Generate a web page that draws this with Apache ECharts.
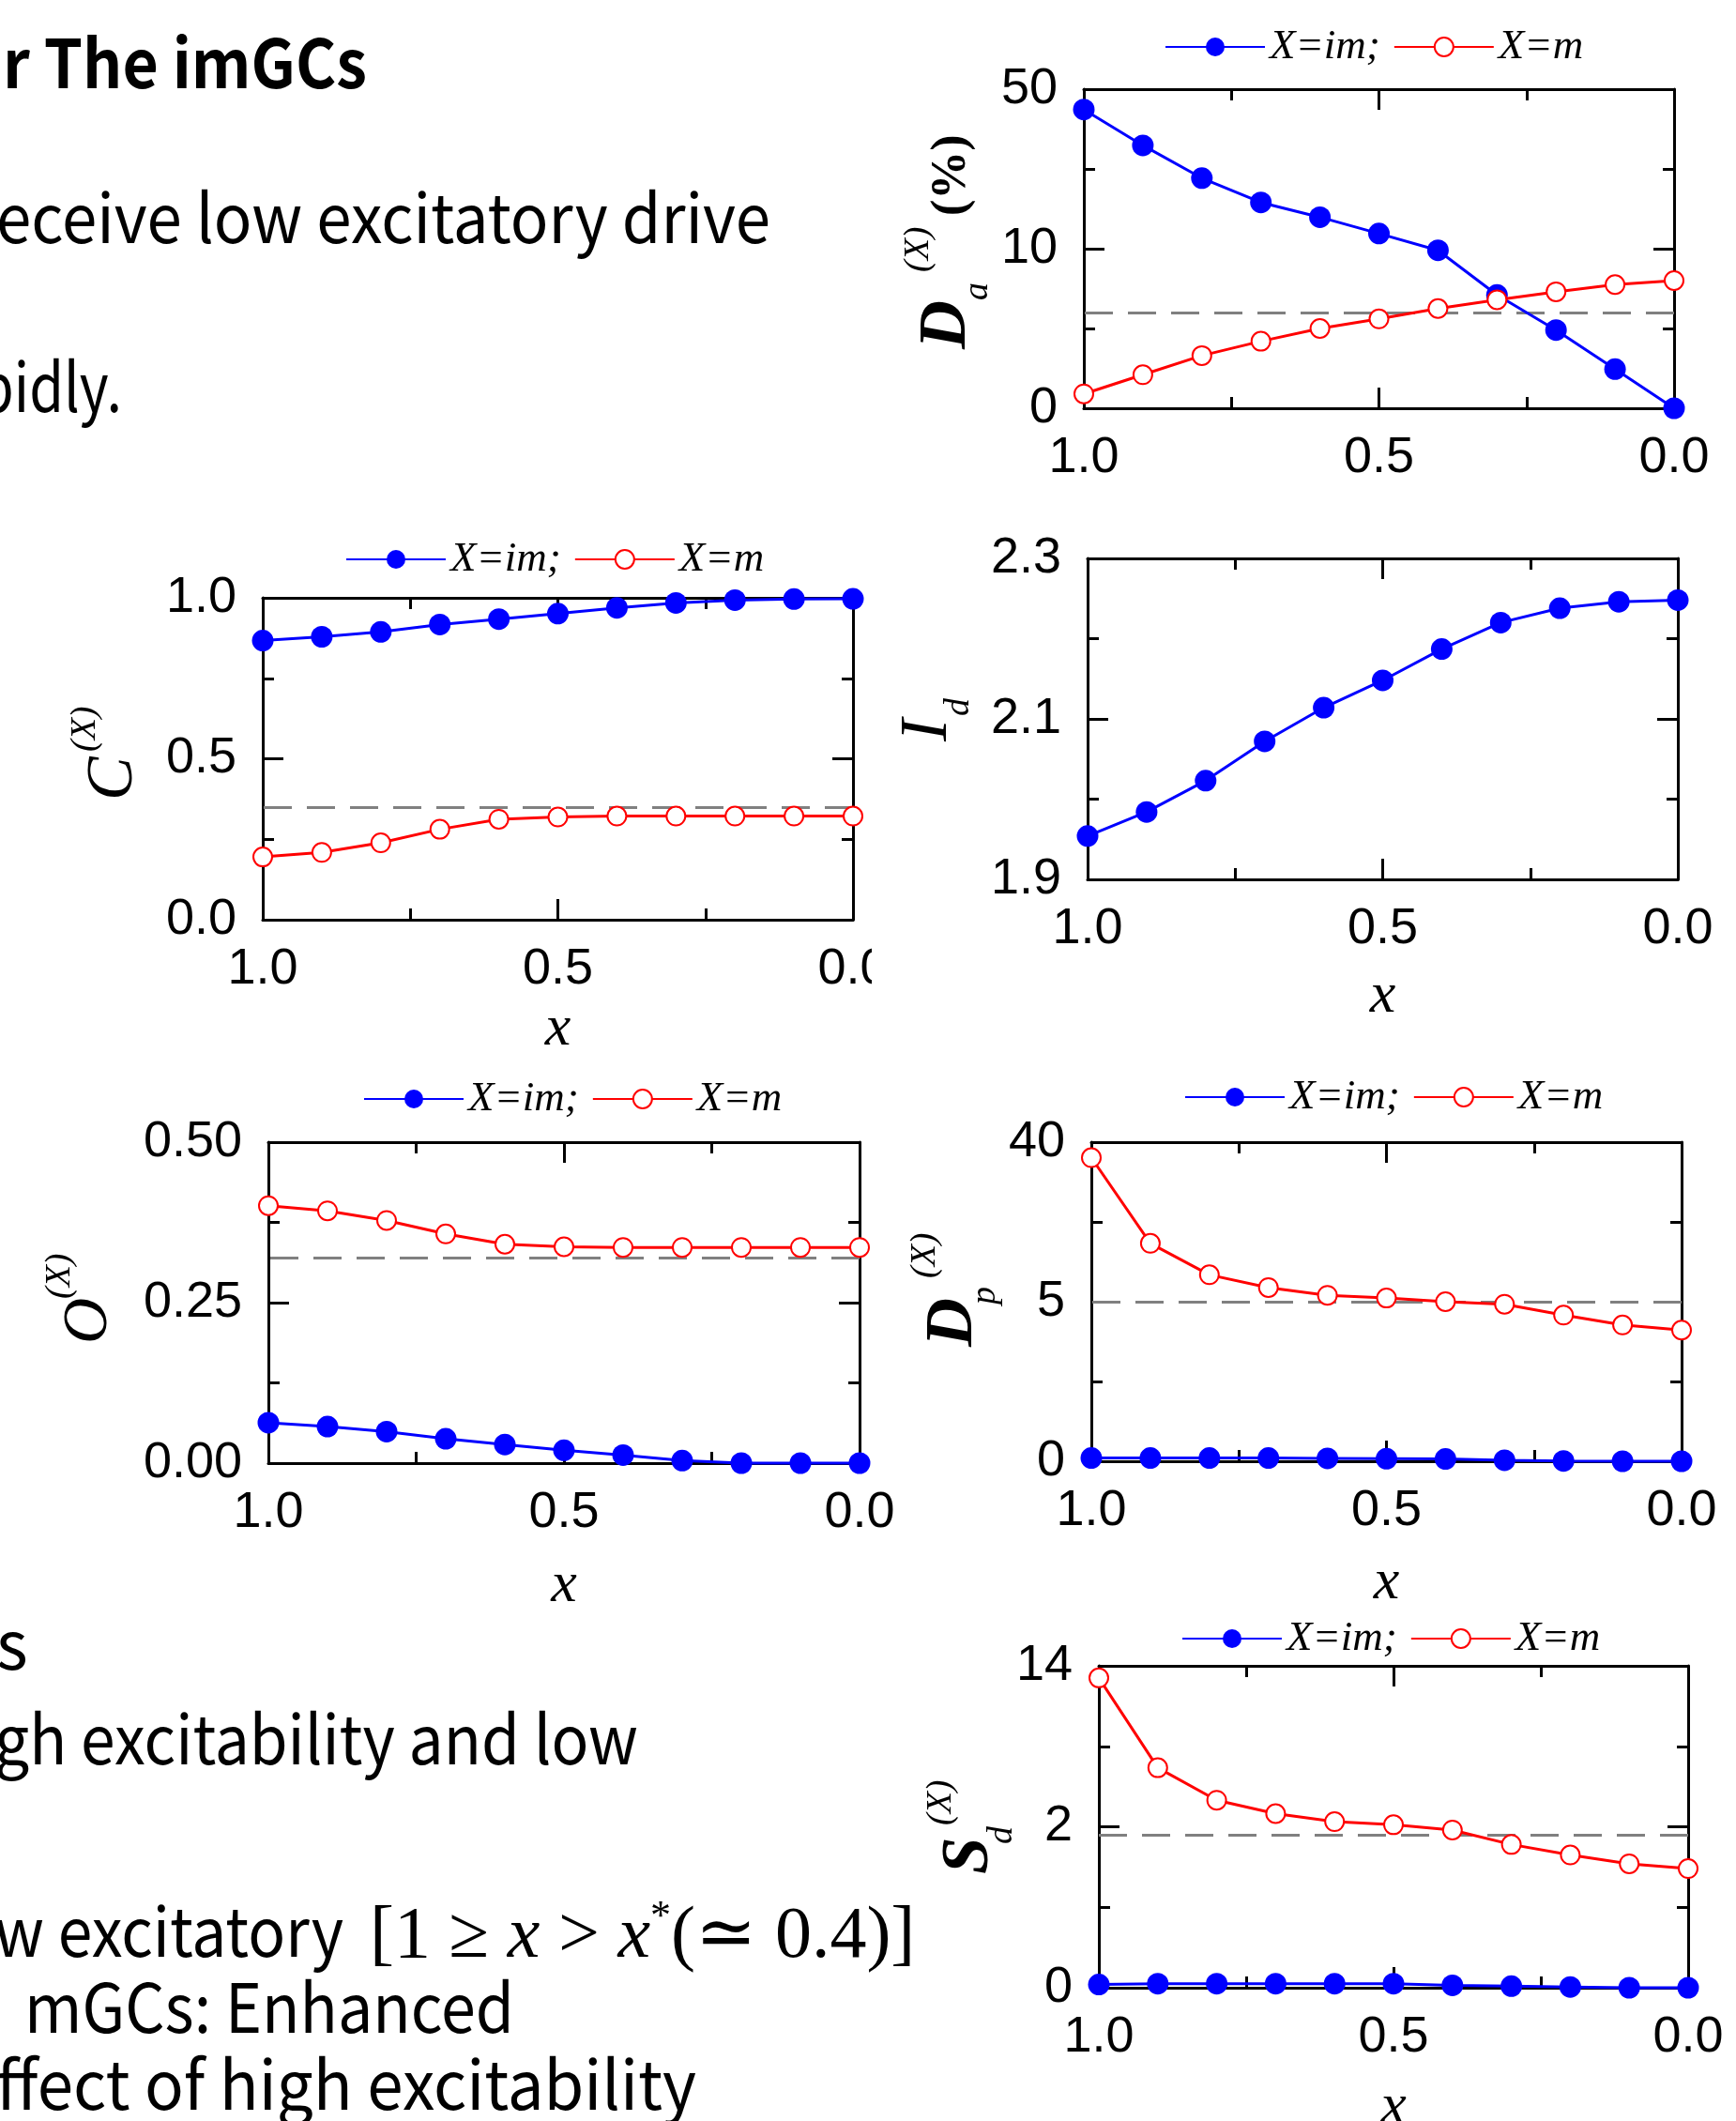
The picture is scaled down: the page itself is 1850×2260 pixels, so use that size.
<!DOCTYPE html>
<html><head><meta charset="utf-8">
<script src="https://cdn.jsdelivr.net/npm/echarts@6/dist/echarts.min.js"></script>
<style>
html,body{margin:0;padding:0;background:#fff;}
#wrap{position:relative;width:1850px;height:2260px;overflow:hidden;background:#fff;}
#chart{position:absolute;left:0;top:0;width:1850px;height:2260px;}
#ov{position:absolute;left:0;top:0;width:1850px;height:2260px;pointer-events:none;}
</style></head><body>
<div id="wrap"><div id="chart"></div>
<svg id="ov" width="1850" height="2260" xmlns="http://www.w3.org/2000/svg">
  <!-- mask that crops the right-most tick label of the C panel, as in the slide -->
  <rect x="929" y="1000" width="70" height="70" fill="#fff"/>
  <g font-family="'Noto Sans CJK KR','Noto Sans',sans-serif" fill="#000">
    <text x="3" y="94" font-size="72" font-weight="bold" textLength="388" lengthAdjust="spacingAndGlyphs">r The imGCs</text>
    <text x="-4" y="259" font-size="72" textLength="825" lengthAdjust="spacingAndGlyphs">eceive low excitatory drive</text>
    <text x="-22" y="439" font-size="72" textLength="152" lengthAdjust="spacingAndGlyphs">pidly.</text>
    <text x="-4" y="1779" font-size="72">s</text>
    <text x="-6" y="1880" font-size="72" textLength="686" lengthAdjust="spacingAndGlyphs">gh excitability and low</text>
    <text x="-6" y="2085" font-size="72" textLength="372" lengthAdjust="spacingAndGlyphs">w excitatory</text>
    <text x="394" y="2085" font-size="78" font-family="'Liberation Serif','DejaVu Serif',serif">[1 ≥ <tspan font-style="italic">x</tspan> &gt; <tspan font-style="italic">x</tspan><tspan font-size="44" dy="-30">*</tspan><tspan dy="30">(≃ 0.4)]</tspan></text>
    <text x="26" y="2166" font-size="72" textLength="522" lengthAdjust="spacingAndGlyphs">mGCs: Enhanced</text>
    <text x="-4" y="2248" font-size="72" textLength="746" lengthAdjust="spacingAndGlyphs">ffect of high excitability</text>
  </g>
  <g font-family="'Liberation Serif','Times New Roman',serif" fill="#000">
    <g transform="translate(1028,372) rotate(-90)">
      <text x="0" y="0" font-size="72" font-weight="bold" font-style="italic">D</text>
      <text x="52" y="24" font-size="38" font-style="italic">a</text>
      <text x="82" y="-39" font-size="38" font-style="italic">(X)</text>
      <text x="142" y="0" font-size="52" font-weight="bold">(%)</text>
    </g>
    <g transform="translate(140,853) rotate(-90)">
      <text x="0" y="0" font-size="70" font-style="italic">C</text>
      <text x="52" y="-39" font-size="38" font-style="italic">(X)</text>
    </g>
    <g transform="translate(1008,790) rotate(-90)">
      <text x="0" y="0" font-size="72" font-style="italic">I</text>
      <text x="27" y="24" font-size="38" font-style="italic">d</text>
    </g>
    <g transform="translate(113,1432) rotate(-90)">
      <text x="0" y="0" font-size="68" font-style="italic">O</text>
      <text x="48" y="-39" font-size="38" font-style="italic">(X)</text>
    </g>
    <g transform="translate(1035,1435) rotate(-90)">
      <text x="0" y="0" font-size="72" font-weight="bold" font-style="italic">D</text>
      <text x="45" y="25" font-size="38" font-style="italic">p</text>
      <text x="73" y="-39" font-size="38" font-style="italic">(X)</text>
    </g>
    <g transform="translate(1052,1997) rotate(-90)">
      <text x="0" y="0" font-size="71" font-weight="bold" font-style="italic">S</text>
      <text x="32" y="26" font-size="38" font-style="italic">d</text>
      <text x="52" y="-39" font-size="38" font-style="italic">(X)</text>
    </g>
  </g>
</svg></div>
<script>
// ---- data ----
const xs = [1.0, 0.9, 0.8, 0.7, 0.6, 0.5, 0.4, 0.3, 0.2, 0.1, 0.0];
const xTicks = [0, 0.5, 1.0];
const legendNames = ['X=im;', 'X=m'];

const Da_im = [44.9, 35.9, 27.7, 21.6, 17.9, 13.8, 9.9, 7.1, 4.9, 2.45, 0.0];
const Da_m  = [0.9, 2.1, 3.3, 4.2, 5.0, 5.6, 6.25, 6.8, 7.3, 7.75, 8.0];
const Da_ref = 6.0;
const Da_ticks = [0, 10, 50];

const C_im = [0.867, 0.879, 0.894, 0.917, 0.934, 0.951, 0.969, 0.984, 0.993, 0.996, 0.997];
const C_m  = [0.195, 0.209, 0.239, 0.281, 0.312, 0.319, 0.322, 0.322, 0.322, 0.322, 0.322];
const C_ref = 0.353;
const C_ticks = [0.0, 0.5, 1.0];

const Id_im = [1.954, 1.984, 2.023, 2.072, 2.114, 2.148, 2.187, 2.220, 2.238, 2.246, 2.248];
const Id_ticks = [1.9, 2.1, 2.3];

const O_im = [0.063, 0.057, 0.049, 0.038, 0.029, 0.020, 0.0125, 0.004, 0.0, 0.0, 0.0];
const O_m  = [0.401, 0.393, 0.378, 0.357, 0.341, 0.337, 0.336, 0.336, 0.336, 0.336, 0.336];
const O_ref = 0.321;
const O_ticks = [0.00, 0.25, 0.50];

const Dp_im = [0.1, 0.1, 0.1, 0.1, 0.09, 0.08, 0.07, 0.03, 0.01, 0.0, 0.0];
const Dp_m  = [36.6, 17.8, 10.9, 8.1, 6.4, 5.8, 5.0, 4.92, 4.58, 4.27, 4.11];
const Dp_ref = 5.0;
const Dp_ticks = [0, 5, 40];

const Sd_im = [0.04, 0.05, 0.05, 0.05, 0.05, 0.05, 0.03, 0.02, 0.01, 0.0, 0.0];
const Sd_m  = [13.1, 6.4, 3.98, 2.98, 2.38, 2.15, 1.96, 1.78, 1.65, 1.54, 1.48];
const Sd_ref = 1.907;
const Sd_ticks = [0, 2, 14];

// ---- layout ----
const panels = [
  {grid:{left:1155, top:95,   width:629, height:340}, ticks:Da_ticks, broken:true,  im:Da_im, m:Da_m, ref:Da_ref, legend:{left:1241, yc:50},   xName:null},
  {grid:{left:280,  top:637,  width:629, height:343}, ticks:C_ticks,  broken:false, dec:1, im:C_im, m:C_m, ref:C_ref, legend:{left:368, yc:596}, xName:117},
  {grid:{left:1159, top:595,  width:629, height:342}, ticks:Id_ticks, broken:false, dec:1, im:Id_im, m:null, ref:null, legend:null, xName:125},
  {grid:{left:286,  top:1217, width:630, height:342}, ticks:O_ticks,  broken:false, dec:2, im:O_im, m:O_m, ref:O_ref, legend:{left:387, yc:1171}, xName:131},
  {grid:{left:1163, top:1217, width:629, height:340}, ticks:Dp_ticks, broken:true,  im:Dp_im, m:Dp_m, ref:Dp_ref, legend:{left:1262, yc:1169}, xName:130},
  {grid:{left:1171, top:1775, width:628, height:343}, ticks:Sd_ticks, broken:true,  im:Sd_im, m:Sd_m, ref:Sd_ref, legend:{left:1259, yc:1746}, xName:128}
];

// a two-segment (broken) scale: [t0,t1] fills the lower half, [t1,t2] the upper half
function mapper(p){
  if(!p.broken) return v => v;
  const t = p.ticks;
  return v => v <= t[1] ? (v - t[0]) / (t[1] - t[0]) : 1 + (v - t[1]) / (t[2] - t[1]);
}

const BLACK = '#000';
const lineAx = {show:true, onZero:false, lineStyle:{color:BLACK, width:3}};
const tickAx = {show:true, inside:true, length:22, lineStyle:{color:BLACK, width:3}};
const minorAx = {show:true, splitNumber:2, length:12, lineStyle:{color:BLACK, width:3}};
const labelFont = {color:BLACK, fontSize:54, fontFamily:"'Liberation Sans', Arial, sans-serif"};

const grid = [], xAxis = [], yAxis = [], series = [], legend = [];
panels.forEach((p, gi) => {
  grid.push(Object.assign({containLabel:false, outerBoundsMode:'none'}, p.grid));
  ['bottom','top'].forEach((pos, k) => {
    const ax = {type:'value', gridIndex:gi, position:pos, inverse:true,
      min:xTicks[0], max:xTicks[2], interval:xTicks[1]-xTicks[0],
      axisLine:lineAx, axisTick:tickAx, minorTick:minorAx,
      splitLine:{show:false}, minorSplitLine:{show:false},
      axisLabel:Object.assign({show:k===0, margin:26, formatter:v=>v.toFixed(1)}, labelFont)};
    if(k===0 && p.xName){
      ax.name = 'x'; ax.nameLocation = 'middle'; ax.nameGap = p.xName;
      ax.nameTextStyle = {color:BLACK, fontSize:62, fontStyle:'italic', fontFamily:"'Liberation Serif', serif", verticalAlign:'middle'};
    }
    xAxis.push(ax);
  });
  const f = mapper(p);
  const ymin = p.broken ? 0 : p.ticks[0];
  const ymax = p.broken ? 2 : p.ticks[2];
  const yint = p.broken ? 1 : (p.ticks[1] - p.ticks[0]);
  const fmt = p.broken ? (v => String(p.ticks[Math.round(v)])) : (v => v.toFixed(p.dec));
  ['left','right'].forEach((pos, k) => {
    yAxis.push({type:'value', gridIndex:gi, position:pos, min:ymin, max:ymax, interval:yint,
      axisLine:lineAx, axisTick:tickAx, minorTick:minorAx,
      splitLine:{show:false}, minorSplitLine:{show:false},
      axisLabel:Object.assign({show:k===0, margin:28, formatter:fmt}, labelFont)});
  });
  const pts = vals => xs.map((x, i) => [x, f(vals[i])]);
  series.push({type:'line', name: p.m ? legendNames[0] : 'Id', xAxisIndex:gi*2, yAxisIndex:gi*2,
    data:pts(p.im), symbol:'circle', symbolSize:23, clip:false, z:3,
    lineStyle:{color:'#0000ff', width:3}, itemStyle:{color:'#0000ff'}, emphasis:{disabled:true}});
  if(p.m){
    const s = {type:'line', name:legendNames[1], xAxisIndex:gi*2, yAxisIndex:gi*2,
      data:pts(p.m), symbol:'emptyCircle', symbolSize:20, clip:false, z:4,
      lineStyle:{color:'#ff0000', width:3}, itemStyle:{color:'#ff0000', borderWidth:2.5}, emphasis:{disabled:true}};
    if(p.ref != null){
      s.markLine = {silent:true, z:1, symbol:['none','none'], label:{show:false},
        lineStyle:{color:'#808080', width:3, type:[30,16]}, emphasis:{disabled:true},
        data:[{yAxis:f(p.ref)}]};
    }
    series.push(s);
  }
  if(p.legend){
    legend.push({left:p.legend.left, top:p.legend.yc - 22.5, padding:0, itemWidth:106, itemHeight:25, itemGap:14,
      selectedMode:false, data:legendNames,
      textStyle:{color:BLACK, fontSize:45, fontStyle:'italic', fontFamily:"'Liberation Serif', serif"}});
  }
});

const chart = echarts.init(document.getElementById('chart'), null, {renderer:'canvas'});
chart.setOption({animation:false, backgroundColor:'#fff', grid, xAxis, yAxis, series, legend});
</script>
</body></html>
